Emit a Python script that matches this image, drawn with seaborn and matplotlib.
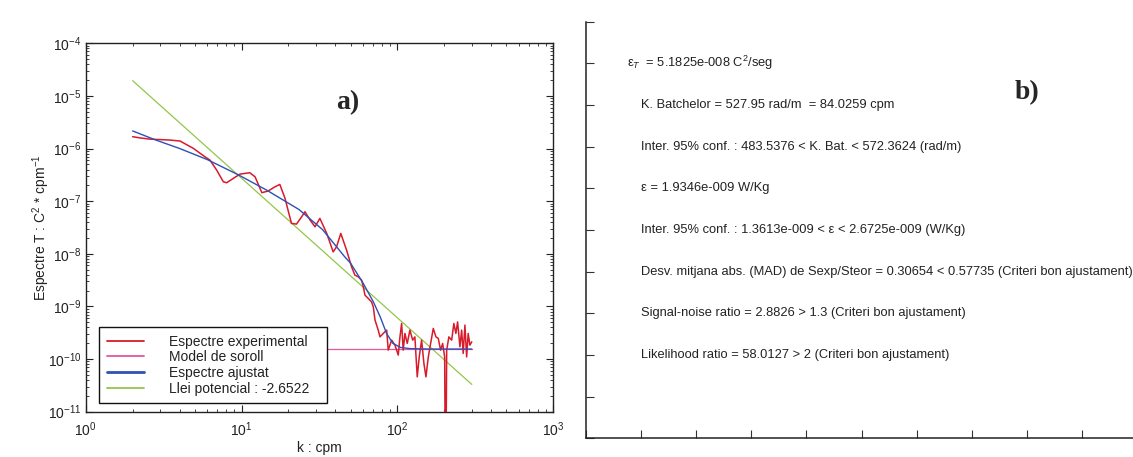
import matplotlib
matplotlib.use("Agg")
import matplotlib.pyplot as plt
import numpy as np
import pandas as pd
import seaborn as sns

# Experimental temperature-gradient spectrum (k in cpm, S in C^2 * cpm^-1)
k_exp = [2.0, 2.24, 2.59, 3.48, 4.03, 4.90, 5.82, 6.27, 6.92, 7.64, 8.02, 8.85,
         9.77, 11.3, 12.2, 13.5, 14.8, 16.4, 17.6, 19.0, 20.9, 22.5, 24.3, 25.5,
         27.5, 29.6, 31.8, 35.2, 38.7, 40.7, 43.3, 47.2, 50.8, 53.3, 56.1, 58.9,
         60.4, 61.9, 65.0, 68.2, 70.0, 71.8, 75.3, 77.3, 81.1, 85.3, 87.3, 91.8,
         96.4, 101.2, 103.8, 106.4, 108.9, 111.7, 115.6, 120.2, 125.3, 129.4,
         134.0, 138.0, 142.9, 147.9, 152.4, 157.8, 163.3, 169.8, 176.6, 182.8,
         189.2, 195.0, 200.9, 203.7, 207.0, 213.8, 222.8, 230.1, 237.1, 243.2,
         251.8, 258.2, 264.2, 271.0, 278.0, 284.4, 291.7, 300.0]
s_exp = [1.68e-6, 1.59e-6, 1.51e-6, 1.45e-6, 1.39e-6, 1.01e-6, 6.98e-7, 6.04e-7,
         3.90e-7, 2.34e-7, 2.24e-7, 2.71e-7, 3.27e-7, 3.47e-7, 2.91e-7, 1.45e-7,
         1.56e-7, 1.88e-7, 2.08e-7, 1.13e-7, 3.78e-8, 3.67e-8, 5.06e-8, 6.30e-8,
         4.38e-8, 3.26e-8, 4.71e-8, 2.44e-8, 1.09e-8, 1.36e-8, 2.44e-8, 1.17e-8,
         5.66e-9, 3.94e-9, 3.66e-9, 3.16e-9, 2.36e-9, 1.64e-9, 1.42e-9, 1.22e-9,
         9.8e-10, 5.5e-10, 3.55e-10, 2.64e-10, 3.07e-10, 3.55e-10, 1.48e-10,
         2.29e-10, 1.84e-10, 1.19e-10, 2.64e-10, 4.75e-10, 1.48e-10, 3.07e-10,
         1.98e-10, 3.55e-10, 2.29e-10, 2.64e-10, 4.59e-11, 1.10e-10, 2.29e-10,
         8.24e-11, 4.59e-11, 1.10e-10, 1.98e-10, 3.82e-10, 2.64e-10, 2.47e-10,
         1.48e-10, 1.98e-10, 1.10e-10, 1.0e-13, 1.48e-10, 2.64e-10, 2.29e-10,
         4.75e-10, 3.07e-10, 5.09e-10, 1.71e-10, 3.55e-10, 1.28e-10, 4.42e-10,
         1.10e-10, 3.07e-10, 1.84e-10, 2.13e-10]

# Noise model (flat level)
k_noise = [2.0, 300.0]
s_noise = [1.55e-10, 1.55e-10]

# Fitted Batchelor spectrum
k_fit = [2.0, 2.82, 3.98, 6.03, 9.55, 14.5, 23.4, 33.1, 45.7, 50.1, 60.3, 70.0,
         77.6, 85.1, 93.3, 104.7, 120.2, 158.5, 300.0]
s_fit = [2.16e-6, 1.45e-6, 1.01e-6, 6.17e-7, 3.16e-7, 1.62e-7, 6.92e-8, 2.88e-8,
         8.91e-9, 6.61e-9, 2.75e-9, 1.23e-9, 6.31e-10, 3.09e-10, 2.0e-10,
         1.66e-10, 1.58e-10, 1.55e-10, 1.55e-10]

# Power law: S = amplitude * k ** exponent
power_exponent = -2.6522
power_amplitude = 1.225e-4
k_power = [2.0, 300.0]

labels = ["Espectre experimental", "Model de soroll", "Espectre ajustat",
          "Llei potencial : -2.6522"]
colors = ["#d81a2a", "#e2589c", "#2f50b4", "#93c64a"]

stats_lines = [
    "K. Batchelor = 527.95 rad/m  = 84.0259 cpm",
    "Inter. 95% conf. : 483.5376 < K. Bat. < 572.3624 (rad/m)",
    "\u03b5 = 1.9346e-009 W/Kg",
    "Inter. 95% conf. : 1.3613e-009 < \u03b5 < 2.6725e-009 (W/Kg)",
    "Desv. mitjana abs. (MAD) de Sexp/Steor = 0.30654 < 0.57735 (Criteri bon ajustament)",
    "Signal-noise ratio = 2.8826 > 1.3 (Criteri bon ajustament)",
    "Likelihood ratio = 58.0127 > 2 (Criteri bon ajustament)",
]

sns.set_style("white")
plt.rcParams["font.family"] = ["Liberation Sans", "DejaVu Sans"]
plt.rcParams["mathtext.fontset"] = "custom"
plt.rcParams["mathtext.rm"] = "Liberation Sans"
plt.rcParams["mathtext.it"] = "Liberation Sans:italic"
plt.rcParams["mathtext.bf"] = "Liberation Sans:bold"
plt.rcParams["axes.unicode_minus"] = False

W, H = 1133, 457
fig = plt.figure(figsize=(W / 100, H / 100), dpi=100)
fig.patch.set_facecolor("white")

# ---- panel a) spectra ----
ax = fig.add_axes([85.7 / W, 1 - 411.7 / H, 467.6 / W, 368.4 / H])

df_exp = pd.DataFrame({"k": k_exp, "S": s_exp})
df_noise = pd.DataFrame({"k": k_noise, "S": s_noise})
df_fit = pd.DataFrame({"k": k_fit, "S": s_fit})
kp = np.array(k_power)
df_pow = pd.DataFrame({"k": kp, "S": power_amplitude * kp ** power_exponent})

sns.lineplot(data=df_pow, x="k", y="S", ax=ax, color=colors[3], lw=0.9,
             estimator=None, label=labels[3], zorder=2)
sns.lineplot(data=df_noise, x="k", y="S", ax=ax, color=colors[1], lw=0.9,
             estimator=None, label=labels[1], zorder=3)
sns.lineplot(data=df_exp, x="k", y="S", ax=ax, color=colors[0], lw=1.1,
             estimator=None, label=labels[0], zorder=4)
sns.lineplot(data=df_fit, x="k", y="S", ax=ax, color=colors[2], lw=1.0,
             estimator=None, label=labels[2], zorder=5)

ax.set_xscale("log")
ax.set_yscale("log")
ax.set_xlim(1, 1000)
ax.set_ylim(1e-11, 1e-4)
ax.set_xticks([1, 10, 100, 1000])
ax.set_yticks([10.0 ** e for e in range(-11, -3)])
ax.tick_params(which="both", direction="in", top=True, right=True,
               bottom=True, left=True,
               colors="#222222", labelcolor="#222222", labelsize=10)
ax.tick_params(which="major", length=5, width=0.8)
ax.tick_params(which="minor", length=2.5, width=0.6)
ax.tick_params(axis="x", pad=6)
ax.tick_params(axis="y", pad=3)
for sp in ax.spines.values():
    sp.set_color("#222222")
    sp.set_linewidth(1.0)

ax.set_xlabel("k : cpm", fontsize=10, color="#222222", labelpad=2)
ax.set_ylabel("Espectre T : C$^2$ * cpm$^{-1}$", fontsize=10, color="#222222",
              labelpad=-3)
ax.text(0.561, 0.838, "a)", transform=ax.transAxes, ha="center", va="center",
        fontsize=20, fontweight="bold", family="Liberation Serif")

handles, lbls = ax.get_legend_handles_labels()
order = [lbls.index(l) for l in labels]
leg = ax.legend([handles[i] for i in order], [lbls[i] for i in order],
                loc="lower left", bbox_to_anchor=(0.0284, 0.0228, 0.488, 0.22),
                mode="expand", fontsize=10, frameon=True, fancybox=False,
                framealpha=1, edgecolor="#111111", handlelength=2.7,
                handletextpad=1.8, borderpad=0.55, labelspacing=0.12,
                borderaxespad=0)
leg.get_frame().set_linewidth(1.0)
for line in leg.get_lines():
    line.set_linewidth(1.3)
leg.get_lines()[2].set_linewidth(2.0)
for t in leg.get_texts():
    t.set_color("#222222")

# ---- panel b) fit statistics ----
bx = fig.add_axes([586 / W, 1 - 438.3 / H, 551 / W, 416.6 / H])
bx.set_xlim(0, 1)
bx.set_ylim(0, 1)
bx.set_xticks(np.arange(0, 1.01, 0.1))
bx.set_yticks(np.arange(0, 1.01, 0.1))
bx.tick_params(which="both", direction="in", length=5.5, width=0.8,
               bottom=True, left=True, top=False, right=False,
               colors="#333333", labelbottom=False, labelleft=False)
bx.spines["top"].set_visible(False)
bx.spines["right"].set_visible(False)
for side in ("left", "bottom"):
    bx.spines[side].set_color("#222222")
    bx.spines[side].set_linewidth(1.1)

text_size = 9.3
bx.text(0.074, 0.9, "\u03b5$_{T}$  = 5.1825e-008 C$^2$/seg", fontsize=text_size,
        va="center", color="#222222")
for i, line in enumerate(stats_lines):
    bx.text(0.1, 0.8 - 0.1 * i, line, fontsize=text_size, va="center",
            color="#222222")
bx.text(0.80, 0.829, "b)", ha="center", va="center", fontsize=20,
        fontweight="bold", family="Liberation Serif")

fig.savefig("out.png", dpi=100, facecolor="white")
